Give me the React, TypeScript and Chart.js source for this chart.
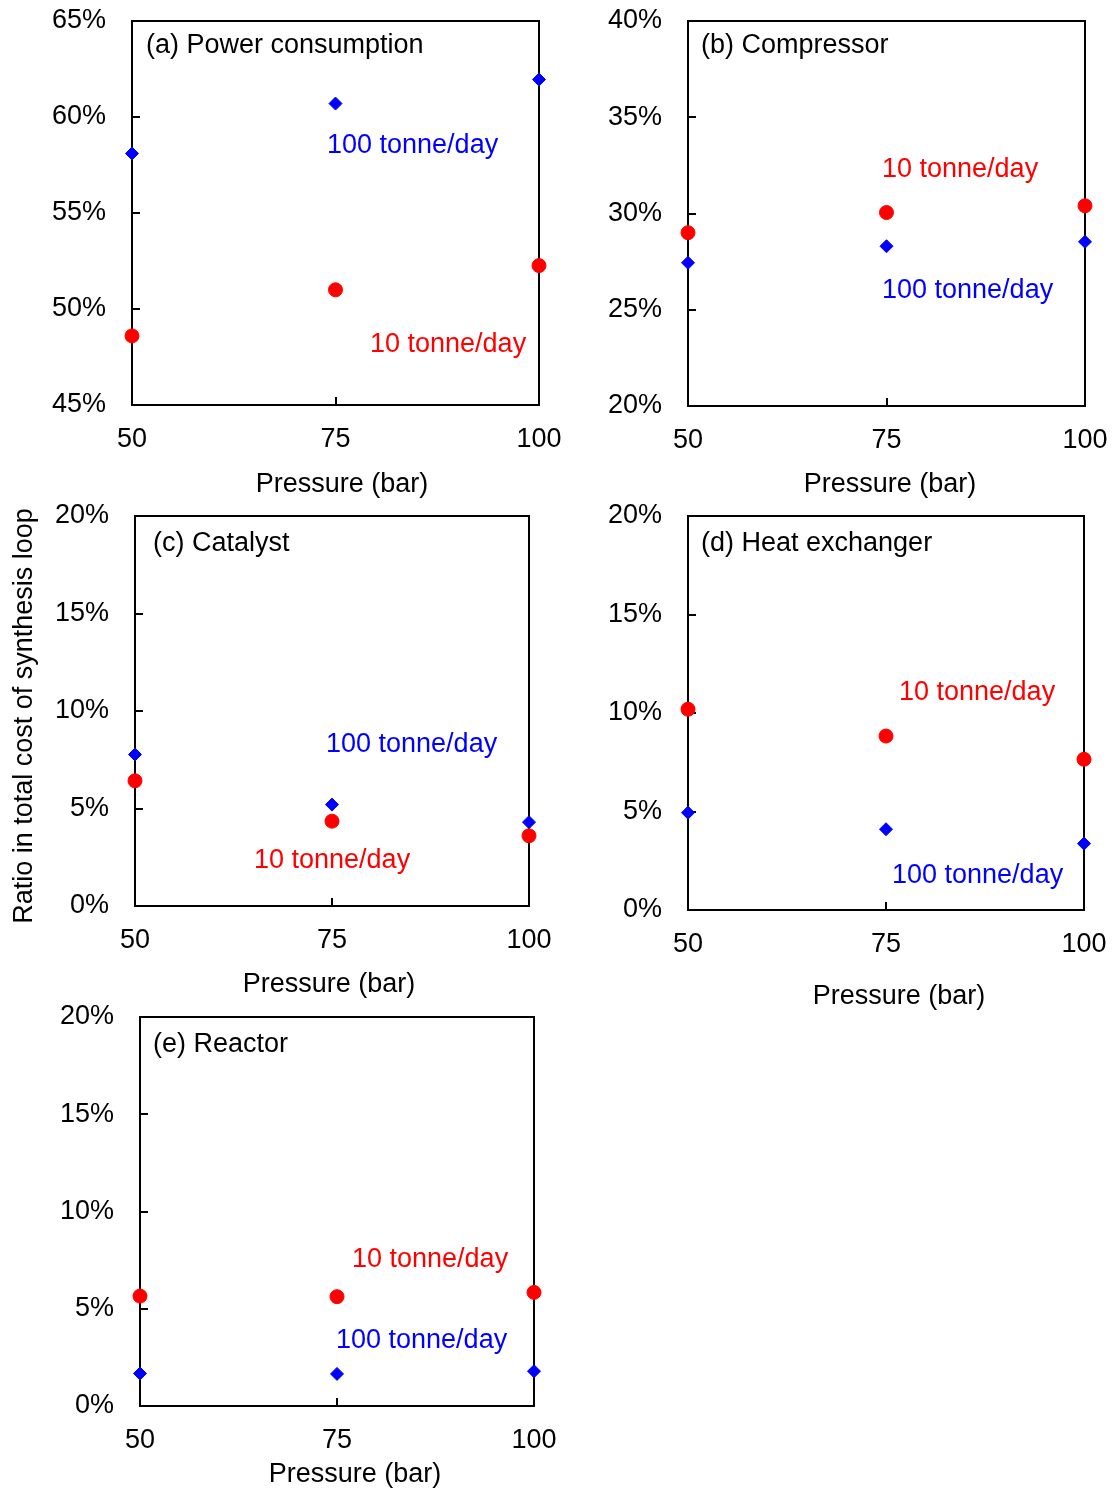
import React, { useEffect, useRef } from "react";
import { Chart, registerables } from "chart.js";

Chart.register(...registerables);

// ---------- data ----------
const pressures = [50, 75, 100];
const xTicks = [50, 75, 100];

// (a) Power consumption
const powerSmall = [48.6, 51.0, 52.26];
const powerLarge = [58.1, 60.7, 61.95];
// (b) Compressor
const compSmall = [29.0, 30.05, 30.4];
const compLarge = [27.44, 28.3, 28.53];
// (c) Catalyst
const catSmall = [6.42, 4.35, 3.6];
const catLarge = [7.77, 5.2, 4.3];
// (d) Heat exchanger
const hexSmall = [10.19, 8.83, 7.65];
const hexLarge = [4.94, 4.1, 3.37];
// (e) Reactor
const reacSmall = [5.65, 5.62, 5.84];
const reacLarge = [1.67, 1.65, 1.79];

const panelTitles = [
  "(a) Power consumption",
  "(b) Compressor",
  "(c) Catalyst",
  "(d) Heat exchanger",
  "(e) Reactor",
];
const seriesLabels = ["10 tonne/day", "100 tonne/day"];
const yMins = [45, 20, 0, 0, 0];
const yMaxs = [65, 40, 20, 20, 20];
const yStep = 5;
const xTitle = "Pressure (bar)";
const yTitle = "Ratio in total cost of synthesis loop";

const panelSmall = [powerSmall, compSmall, catSmall, hexSmall, reacSmall];
const panelLarge = [powerLarge, compLarge, catLarge, hexLarge, reacLarge];

// ---------- layout / style (page coordinates) ----------
const AXW = 130;
const PADT = 50;
const PADR = 50;
const AXH = 110;
const FONT = "'Liberation Sans', Arial, sans-serif";
const FS = 27;
const RED = "#ff0000";
const BLUE = "#0000ff";

type Pt = { x: number; y: number };
type Lay = {
  L: number; T: number; R: number; B: number;
  title: Pt; small: Pt; large: Pt; xt: Pt; yt?: Pt;
};

const layouts: Lay[] = [
  { L: 132, T: 21, R: 539, B: 405, title: { x: 146, y: 53 }, small: { x: 370, y: 352 }, large: { x: 327, y: 153 }, xt: { x: 342, y: 492 } },
  { L: 688, T: 21, R: 1085, B: 406, title: { x: 701, y: 53 }, small: { x: 882, y: 177 }, large: { x: 882, y: 298 }, xt: { x: 890, y: 492 } },
  { L: 135, T: 516, R: 529, B: 906, title: { x: 153, y: 551 }, small: { x: 254, y: 868 }, large: { x: 326, y: 752 }, xt: { x: 329, y: 992 }, yt: { x: 32, y: 716 } },
  { L: 688, T: 516, R: 1084, B: 910, title: { x: 701, y: 551 }, small: { x: 899, y: 700 }, large: { x: 892, y: 883 }, xt: { x: 899, y: 1004 } },
  { L: 140, T: 1017, R: 534, B: 1406, title: { x: 153, y: 1052 }, small: { x: 352, y: 1267 }, large: { x: 336, y: 1348 }, xt: { x: 355, y: 1482 } },
];

function Panel({ idx }: { idx: number }) {
  const ref = useRef<HTMLCanvasElement | null>(null);
  const lay = layouts[idx];
  const left = lay.L - AXW;
  const top = lay.T - PADT;
  const w = lay.R - lay.L + AXW + PADR;
  const h = lay.B - lay.T + PADT + AXH;

  useEffect(() => {
    if (!ref.current) return;
    const ox = left;
    const oy = top;
    const decor = {
      id: "decor" + idx,
      beforeDatasetsDraw(chart: any) {
        const { ctx, chartArea: a } = chart;
        ctx.save();
        ctx.strokeStyle = "#000";
        ctx.lineWidth = 2;
        ctx.strokeRect(a.left, a.top, a.right - a.left, a.bottom - a.top);
        const ys = chart.scales.y;
        const xs = chart.scales.x;
        ctx.beginPath();
        ys.ticks.forEach((t: any) => {
          if (t.value > ys.min && t.value < ys.max) {
            const py = Math.round(ys.getPixelForValue(t.value));
            ctx.moveTo(a.left, py);
            ctx.lineTo(a.left + 8, py);
          }
        });
        xs.ticks.forEach((t: any) => {
          if (t.value > xs.min && t.value < xs.max) {
            const px = Math.round(xs.getPixelForValue(t.value));
            ctx.moveTo(px, a.bottom);
            ctx.lineTo(px, a.bottom - 8);
          }
        });
        ctx.stroke();
        ctx.restore();
      },
      afterDraw(chart: any) {
        const { ctx } = chart;
        ctx.save();
        ctx.font = `${FS}px ${FONT}`;
        ctx.textBaseline = "alphabetic";
        ctx.textAlign = "left";
        ctx.fillStyle = "#000";
        ctx.fillText(panelTitles[idx], lay.title.x - ox, lay.title.y - oy);
        ctx.fillStyle = RED;
        ctx.fillText(seriesLabels[0], lay.small.x - ox, lay.small.y - oy);
        ctx.fillStyle = BLUE;
        ctx.fillText(seriesLabels[1], lay.large.x - ox, lay.large.y - oy);
        ctx.fillStyle = "#000";
        ctx.textAlign = "center";
        ctx.fillText(xTitle, lay.xt.x - ox, lay.xt.y - oy);
        if (lay.yt) {
          ctx.translate(lay.yt.x - ox, lay.yt.y - oy);
          ctx.rotate(-Math.PI / 2);
          ctx.fillText(yTitle, 0, 0);
        }
        ctx.restore();
      },
    };

    const chart = new Chart(ref.current, {
      type: "scatter",
      data: {
        datasets: [
          {
            label: seriesLabels[0],
            data: pressures.map((p, i) => ({ x: p, y: panelSmall[idx][i] })),
            pointStyle: "circle",
            pointRadius: 7,
            pointHoverRadius: 7,
            borderWidth: 1,
            backgroundColor: RED,
            borderColor: RED,
            clip: false as any,
          },
          {
            label: seriesLabels[1],
            data: pressures.map((p, i) => ({ x: p, y: panelLarge[idx][i] })),
            pointStyle: "rectRot",
            pointRadius: 6.5,
            pointHoverRadius: 6.5,
            borderWidth: 1,
            backgroundColor: BLUE,
            borderColor: BLUE,
            clip: false as any,
          },
        ],
      },
      options: {
        responsive: false,
        animation: false,
        devicePixelRatio: 1,
        layout: { autoPadding: false, padding: { left: 0, top: PADT, right: PADR, bottom: 0 } },
        plugins: { legend: { display: false }, tooltip: { enabled: false } },
        scales: {
          x: {
            type: "linear",
            min: xTicks[0],
            max: xTicks[xTicks.length - 1],
            grid: { display: false, drawTicks: false },
            border: { display: false },
            afterBuildTicks: (s: any) => {
              s.ticks = xTicks.map((v) => ({ value: v }));
            },
            ticks: {
              color: "#000",
              font: { family: FONT, size: FS },
              padding: 18,
              maxRotation: 0,
              autoSkip: false,
              callback: (v: any) => String(v),
            },
            afterFit: (s: any) => {
              s.height = AXH;
            },
          },
          y: {
            type: "linear",
            min: yMins[idx],
            max: yMaxs[idx],
            grid: { display: false, drawTicks: false },
            border: { display: false },
            ticks: {
              stepSize: yStep,
              color: "#000",
              font: { family: FONT, size: FS },
              padding: 26,
              autoSkip: false,
              callback: (v: any) => v + "%",
            },
            afterFit: (s: any) => {
              s.width = AXW;
            },
          },
        },
      },
      plugins: [decor],
    } as any);
    return () => chart.destroy();
  }, []);

  return (
    <canvas
      ref={ref}
      width={w}
      height={h}
      style={{ position: "absolute", left, top, width: w, height: h }}
    />
  );
}

export default function App() {
  return (
    <div
      style={{
        position: "absolute",
        left: 0,
        top: 0,
        width: 1113,
        height: 1488,
        background: "#fff",
        overflow: "hidden",
      }}
    >
      {layouts.map((_, i) => (
        <Panel key={i} idx={i} />
      ))}
    </div>
  );
}
